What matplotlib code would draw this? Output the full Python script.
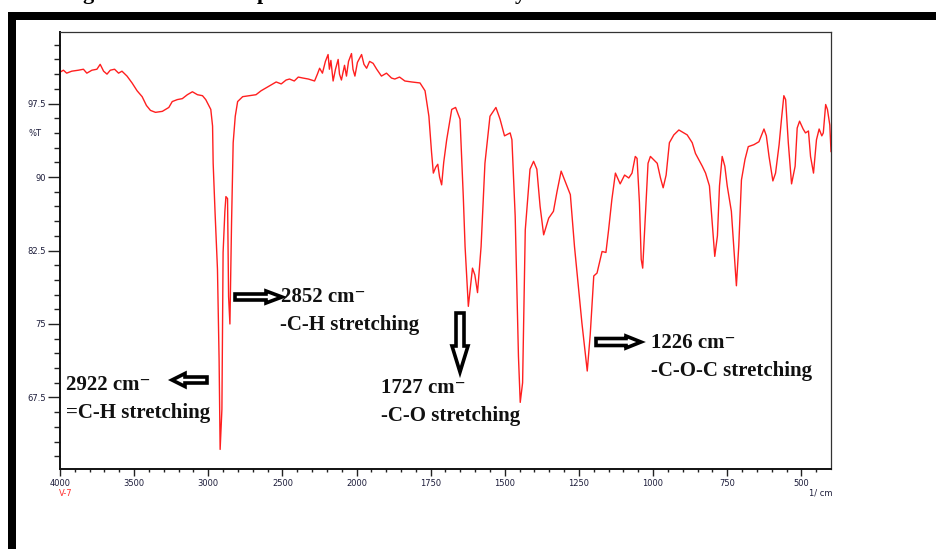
import numpy as np
import matplotlib
matplotlib.use("Agg")
import matplotlib.pyplot as plt
from matplotlib.patches import FancyArrow, Rectangle

# ---------------- data ----------------
wavenumber = [
    4000, 3977, 3955, 3921, 3876, 3842, 3819, 3785, 3751, 3729, 3706, 3683, 3661, 3632, 3605, 3582,
    3548, 3514, 3480, 3446, 3417, 3390, 3356, 3310, 3266, 3243, 3209, 3175, 3141, 3107, 3073, 3039,
    3017, 2997, 2983, 2971, 2967, 2954, 2938, 2927, 2920, 2913, 2908, 2900, 2888, 2881, 2870, 2863,
    2854, 2843, 2832, 2818, 2802, 2768, 2725, 2678, 2644, 2610, 2576, 2542, 2508, 2475, 2452, 2420,
    2393, 2361, 2325, 2283, 2264, 2249, 2230, 2210, 2192, 2183, 2173, 2158, 2142, 2124, 2115, 2102,
    2081, 2068, 2054, 2034, 2024, 2011, 1997, 1983, 1975, 1966, 1956, 1944, 1932, 1916, 1899, 1882,
    1871, 1855, 1837, 1814, 1786, 1769, 1756, 1747, 1741, 1733, 1726, 1720, 1713, 1706, 1696, 1679,
    1666, 1651, 1640, 1634, 1623, 1617, 1609, 1601, 1592, 1580, 1567, 1550, 1530, 1516, 1501, 1482,
    1476, 1465, 1454, 1448, 1440, 1431, 1415, 1403, 1392, 1381, 1369, 1352, 1336, 1324, 1310, 1297,
    1279, 1265, 1240, 1222, 1212, 1200, 1189, 1172, 1159, 1150, 1139, 1127, 1111, 1096, 1082, 1071,
    1060, 1054, 1046, 1040, 1035, 1026, 1017, 1009, 986, 975, 966, 956, 945, 930, 913, 885,
    868, 857, 834, 823, 810, 803, 792, 783, 776, 767, 758, 750, 736, 728, 719, 711,
    702, 690, 679, 660, 643, 626, 618, 609, 596, 587, 575, 567, 559, 553, 544, 533,
    521, 514, 506, 494, 486, 476, 469, 459, 449, 440, 431, 426, 418, 412, 404, 400,
]
transmittance = [
    100.7, 100.9, 100.6, 100.8, 100.9, 101.0, 100.6, 100.9, 101.0, 101.5, 100.8, 100.5, 100.9, 101.0, 100.6, 100.8,
    100.3, 99.6, 98.8, 98.2, 97.3, 96.8, 96.6, 96.7, 97.1, 97.7, 97.9, 98.0, 98.4, 98.7, 98.4, 98.3,
    97.9, 97.3, 96.9, 95.2, 91.4, 86.3, 80.6, 71.4, 62.2, 64.5, 66.3, 82.3, 86.5, 88.0, 87.8, 77.8,
    75.0, 85.3, 93.5, 96.2, 97.7, 98.2, 98.3, 98.4, 98.8, 99.1, 99.4, 99.7, 99.5, 99.9, 100.0, 99.8,
    100.2, 100.1, 100.0, 99.8, 100.5, 101.1, 100.6, 101.8, 102.5, 101.0, 101.9, 99.8, 101.0, 102.0, 100.5, 99.9,
    101.4, 100.3, 101.8, 102.6, 101.0, 100.3, 101.7, 102.5, 101.5, 101.1, 101.8, 101.6, 101.0, 100.3, 100.6, 100.1,
    100.0, 100.2, 99.8, 99.7, 99.6, 98.8, 96.2, 92.5, 90.4, 91.0, 91.3, 90.0, 89.2, 91.5, 93.8, 96.9,
    97.1, 95.9, 88.0, 82.9, 76.8, 78.5, 80.7, 80.0, 78.2, 82.9, 91.4, 96.2, 97.1, 95.9, 94.2, 94.5,
    93.8, 86.0, 71.7, 67.0, 69.0, 84.6, 90.8, 91.6, 90.8, 87.0, 84.1, 85.8, 86.5, 88.5, 90.6, 89.6,
    88.2, 82.9, 75.1, 70.2, 73.9, 79.9, 80.2, 82.4, 82.3, 84.6, 87.7, 90.4, 89.3, 90.2, 89.9, 90.4,
    92.1, 91.9, 87.4, 81.6, 80.7, 86.0, 91.4, 92.1, 91.4, 89.9, 88.9, 90.2, 93.5, 94.3, 94.8, 94.3,
    93.5, 92.4, 91.1, 90.4, 89.1, 86.3, 81.9, 84.0, 89.1, 92.1, 91.1, 89.1, 86.5, 83.0, 78.9, 83.0,
    89.7, 91.8, 93.1, 93.3, 93.6, 94.9, 94.2, 92.1, 89.6, 90.4, 93.3, 95.9, 98.3, 97.9, 93.5, 89.3,
    91.1, 95.0, 95.7, 94.9, 94.5, 94.7, 92.1, 90.4, 93.8, 94.9, 94.2, 94.5, 97.4, 96.9, 95.3, 92.6,
]

x_major = [4000, 3500, 3000, 2500, 2000, 1750, 1500, 1250, 1000, 750, 500]
x_labels = ["4000", "3500", "3000", "2500", "2000", "1750", "1500", "1250", "1000", "750", "500"]
y_major = [67.5, 75, 82.5, 90, 97.5]
y_labels = ["67.5", "75", "82.5", "90", "97.5"]

peak_labels = [
    ("2922 cm\u207b", "=C-H stretching"),
    ("2852 cm\u207b", "-C-H stretching"),
    ("1727 cm\u207b", "-C-O stretching"),
    ("1226 cm\u207b", "-C-O-C stretching"),
]

# ---------------- figure ----------------
W, H = 936, 549
fig = plt.figure(figsize=(W / 100, H / 100), dpi=100)
fig.patch.set_facecolor("white")


def fwd(w):
    w = np.asarray(w, dtype=float)
    return np.where(w > 2000, 2000 + (w - 2000) / 2.0, w)


def inv(u):
    u = np.asarray(u, dtype=float)
    return np.where(u > 2000, 2000 + (u - 2000) * 2.0, u)


L, R, T, B = 60, 831, 32, 469
ax = fig.add_axes([L / W, (H - B) / H, (R - L) / W, (B - T) / H])
ax.set_xscale("function", functions=(fwd, inv))
ax.plot(wavenumber, transmittance, color="#ff1f1f", lw=1.0)
ax.set_xlim(4000, 400)
ax.set_ylim(60.2, 104.8)

x_minor = [v for v in range(3900, 2000, -100) if v % 500 != 0] + \
          [v for v in range(1950, 400, -50) if v % 250 != 0]
y_minor = [round(60 + 1.5 * k, 2) for k in range(1, 30)]
y_minor = [v for v in y_minor if v not in y_major and v < 104.8]

ax.set_xticks(x_major)
ax.set_xticklabels(x_labels)
ax.set_xticks(x_minor, minor=True)
ax.set_yticks(y_major)
ax.set_yticklabels(y_labels)
ax.set_yticks(y_minor, minor=True)

tick_col = "#222222"
lab_col = "#1c1c3a"
ax.tick_params(axis="x", which="major", direction="out", length=5, width=1.0,
               colors=tick_col, labelsize=6, pad=2.5, labelcolor=lab_col)
ax.tick_params(axis="x", which="minor", direction="out", length=2.5, width=1.0, colors=tick_col)
ax.tick_params(axis="y", which="major", direction="out", length=8.5, width=1.0,
               colors=tick_col, labelsize=6, pad=1.5, labelcolor=lab_col)
ax.tick_params(axis="y", which="minor", direction="out", length=4, width=1.0, colors=tick_col)

for side in ("left", "bottom"):
    ax.spines[side].set_linewidth(1.4)
    ax.spines[side].set_color("#111111")
for side in ("top", "right"):
    ax.spines[side].set_linewidth(0.9)
    ax.spines[side].set_color("#333333")

# ---------------- overlay in pixel coordinates ----------------
ov = fig.add_axes([0, 0, 1, 1], zorder=5)
ov.set_xlim(0, W)
ov.set_ylim(H, 0)
ov.axis("off")
ov.patch.set_alpha(0)

# outer black frame (screenshot border)
ov.add_patch(Rectangle((8, 12), W - 8, 7.5, facecolor="black", edgecolor="none"))
ov.add_patch(Rectangle((8, 12), 8, H - 12, facecolor="black", edgecolor="none"))

# cut-off caption descenders at the top
for cx, ch in [(82, "g"), (257, "p"), (515, "y")]:
    ov.text(cx, -1.5, ch, fontsize=16, fontweight="bold", family="Liberation Serif",
            va="baseline", ha="left", color="black", clip_on=False)

# small axis texts
ov.text(35, 133, "%T", fontsize=6, color=lab_col, ha="center", va="center")
ov.text(66, 494, "V-7", fontsize=6, color="#ff3030", ha="center", va="center")
ov.text(821, 493, "1/ cm", fontsize=6, color=lab_col, ha="center", va="center")

# hollow block arrows
akw = dict(length_includes_head=True, facecolor="white", edgecolor="black", linewidth=2.6,
           joinstyle="miter")
ov.add_patch(FancyArrow(207, 380, -35, 0, width=6, head_width=13, head_length=13, **akw))
ov.add_patch(FancyArrow(235, 297, 47, 0, width=6, head_width=12, head_length=16, **akw))
ov.add_patch(FancyArrow(460, 313, 0, 59, width=8, head_width=16, head_length=26, **akw))
ov.add_patch(FancyArrow(596, 342, 45, 0, width=7, head_width=12, head_length=15, **akw))

# labels
fam = ["Liberation Serif", "DejaVu Serif"]
tkw = dict(fontsize=15, fontweight="bold", family=fam, color="#111111", ha="left", va="baseline")
positions = [((66, 390), (66, 418)), ((281, 302), (280, 330)),
             ((381, 393), (381, 421)), ((651, 348), (651, 376))]
for (l1, l2), ((x1, y1), (x2, y2)) in zip(peak_labels, positions):
    ov.text(x1, y1, l1, **tkw)
    ov.text(x2, y2, l2, **tkw)

fig.savefig("out.png", dpi=100)
